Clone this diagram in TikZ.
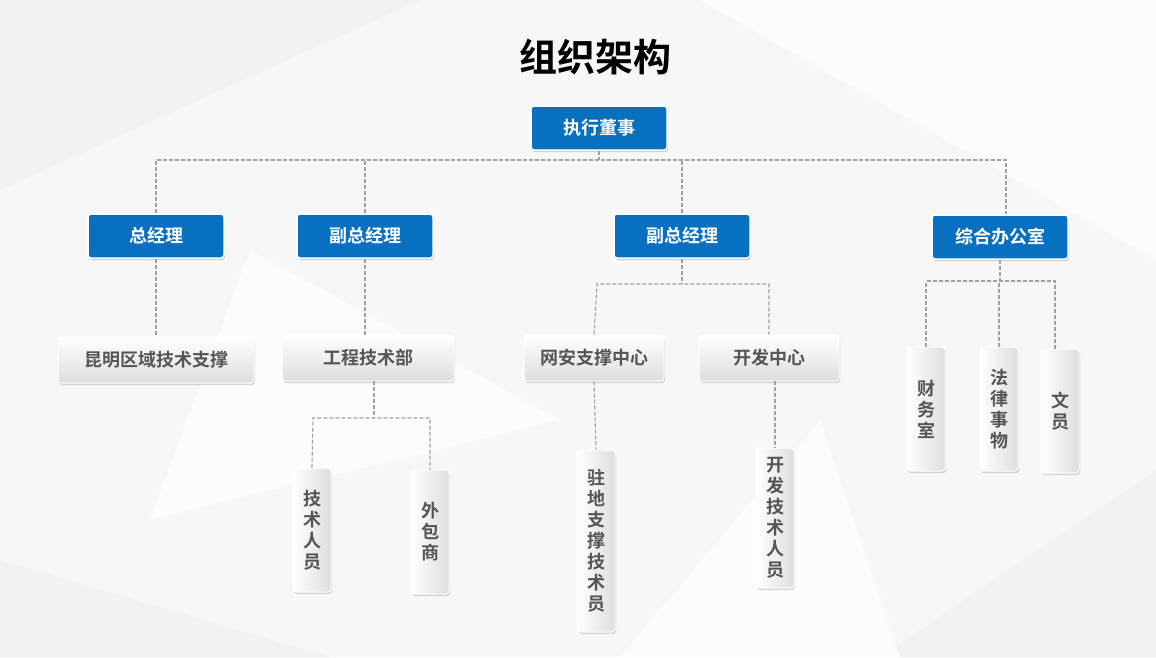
\documentclass[tikz,border=0pt]{standalone}
\usepackage{fontspec}
\setmainfont{Noto Sans CJK SC}[BoldFont={Noto Sans CJK SC Bold}]
\usetikzlibrary{shadows}
\definecolor{bluebox}{HTML}{0870C0}
\definecolor{txtgray}{HTML}{555555}
\definecolor{dashc}{HTML}{A0A0A0}
\begin{document}
\begin{tikzpicture}[x=1pt,y=-1pt,
  bluenode/.style={draw=white,line width=1.5pt,fill=bluebox,rounded corners=3pt,minimum width=136pt,minimum height=44pt,text=white,font=\bfseries\fontsize{18}{18}\selectfont,drop shadow={opacity=0.35,shadow xshift=1pt,shadow yshift=-2pt}},
  graynode/.style={draw=white,line width=1pt,top color=white,bottom color=black!13,rounded corners=3pt,minimum height=46pt,text=txtgray,font=\bfseries\fontsize{18}{18}\selectfont,drop shadow={opacity=0.3,shadow xshift=1pt,shadow yshift=-2pt}},
  vnode/.style={draw=white,line width=1pt,left color=white,right color=black!13,rounded corners=3pt,minimum width=38pt,align=center,inner sep=0pt,text=txtgray,font=\bfseries\fontsize{18}{21}\selectfont,drop shadow={opacity=0.3,shadow xshift=1pt,shadow yshift=-2pt}},
  dline/.style={draw=dashc,dash pattern=on 4pt off 2pt,line width=1.1pt}]
\fill[black!3] (0,0) rectangle (1156,657);
\fill[black!5] (0,0) -- (420,0) -- (0,190) -- cycle;
\fill[black!1] (700,0) -- (1156,0) -- (1156,260) -- cycle;
\fill[black!5] (0,560) -- (330,657) -- (0,657) -- cycle;
\fill[black!1] (250,250) -- (560,420) -- (150,520) -- cycle;
\fill[black!5] (880,657) -- (1156,470) -- (1156,657) -- cycle;
\fill[black!1] (620,657) -- (820,420) -- (900,657) -- cycle;
\useasboundingbox (0,0) rectangle (1156,657);
\node[font=\bfseries\fontsize{38}{38}\selectfont] (title) at (595,57) {组织架构};
\node[bluenode] (ceo) at (599,128) {执行董事};
\node[bluenode] (gm) at (156,236) {总经理};
\node[bluenode] (vp1) at (365,236) {副总经理};
\node[bluenode] (vp2) at (682,236) {副总经理};
\node[bluenode] (off) at (1000,237) {综合办公室};
\node[graynode,minimum width=196pt] (km) at (156,360) {昆明区域技术支撑};
\node[graynode,minimum width=172pt] (gc) at (368,358) {工程技术部};
\node[graynode,minimum width=140pt] (wa) at (594,358) {网安支撑中心};
\node[graynode,minimum width=140pt] (kf) at (769,358) {开发中心};
\node[vnode,minimum height=124pt] (cw) at (926,409) {财\\务\\室};
\node[vnode,minimum height=124pt] (fl) at (999,409) {法\\律\\事\\物};
\node[vnode,minimum height=124pt] (wy) at (1060,411) {文\\员};
\node[vnode,minimum height=124pt] (js) at (312,530) {技\\术\\人\\员};
\node[vnode,minimum height=124pt] (wb) at (430,532) {外\\包\\商};
\node[vnode,minimum height=182pt] (zd) at (596,541) {驻\\地\\支\\撑\\技\\术\\员};
\node[vnode,minimum height=140pt] (kj) at (775,518) {开\\发\\技\\术\\人\\员};
\coordinate (h1) at (599,160);
\draw[dline] (ceo.south) -- (h1);
\draw[dline] (gm.north) -- (156,160) -- (1006,160) -- (1006,214);
\draw[dline] (vp1.north) -- (365,160);
\draw[dline] (vp2.north) -- (682,160);
\draw[dline] (gm.south) -- (km.north);
\draw[dline] (vp1.south) -- (365,335);
\draw[dline] (vp2.south) -- (682,284);
\draw[dline] (wa.north) -- (597,284) -- (769,284) -- (kf.north);
\draw[dline] (off.south) -- (1000,281);
\draw[dline] (cw.north) -- (926,281) -- (1055,281) -- (1055,349);
\draw[dline] (fl.north) -- (999,281);
\draw[dline] (374,381) -- (374,418);
\draw[dline] (js.north) -- (313,418) -- (430,418) -- (wb.north);
\draw[dline] (wa.south) -- (zd.north);
\draw[dline] (775,381) -- (kj.north);
\end{tikzpicture}
\end{document}
